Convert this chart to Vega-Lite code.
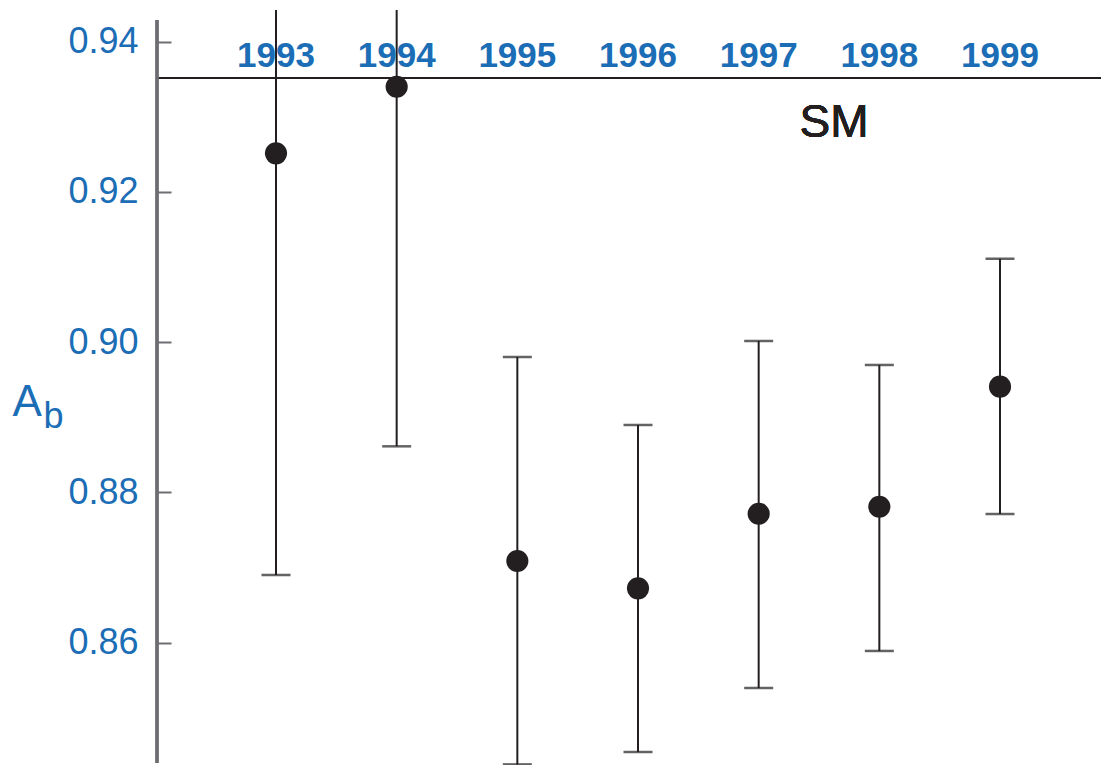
{
  "$schema": "https://vega.github.io/schema/vega-lite/v6.json",
  "width": 944,
  "height": 755,
  "autosize": {"type": "none"},
  "padding": {"left": 157, "top": 10, "right": 0, "bottom": 0},
  "background": "white",
  "config": {"view": {"stroke": null}, "axis": {"grid": false}},
  "data": {"values": [
    {"year": 1993, "v": 0.92514, "lo": 0.86901, "hi": 0.981},
    {"year": 1994, "v": 0.93401, "lo": 0.88614, "hi": 0.982},
    {"year": 1995, "v": 0.87088, "lo": 0.8438, "hi": 0.89803},
    {"year": 1996, "v": 0.86724, "lo": 0.84545, "hi": 0.88898},
    {"year": 1997, "v": 0.87717, "lo": 0.85397, "hi": 0.90016},
    {"year": 1998, "v": 0.8781, "lo": 0.8589, "hi": 0.89697},
    {"year": 1999, "v": 0.89408, "lo": 0.87713, "hi": 0.91111}
  ]},
  "layer": [
    {
      "mark": {"type": "rule", "color": "#231f20", "strokeWidth": 2},
      "encoding": {
        "x": {"field": "year", "type": "quantitative", "scale": {"domain": [1992.0138, 1999.837], "nice": false, "zero": false}, "axis": null},
        "y": {"field": "lo", "type": "quantitative",
          "scale": {"domain": [0.84372, 0.94422], "nice": false, "zero": false, "clamp": true},
          "axis": {"values": [0.86, 0.88, 0.90, 0.92, 0.94], "format": ".2f", "domain": false, "offset": -14,
            "ticks": true, "tickSize": 14, "tickColor": "#6d6e71", "tickWidth": 2,
            "labelFont": "Liberation Sans", "labelFontSize": 36, "labelColor": "#1b6db5", "labelPadding": 19,
            "title": "A", "titleFont": "Liberation Sans", "titleFontSize": 44, "titleFontWeight": "normal",
            "titleColor": "#1b6db5", "titleAngle": 0, "titleAlign": "left", "titleBaseline": "alphabetic",
            "titleX": -159, "titleY": 405}},
        "y2": {"field": "hi"}
      }
    },
    {
      "mark": {"type": "tick", "orient": "horizontal", "color": "#231f20", "thickness": 2.5, "size": 29},
      "encoding": {
        "x": {"field": "year", "type": "quantitative", "axis": null},
        "y": {"field": "lo", "type": "quantitative", "axis": null}
      }
    },
    {
      "transform": [{"filter": "datum.hi < 0.944"}],
      "mark": {"type": "tick", "orient": "horizontal", "color": "#231f20", "thickness": 2.5, "size": 29},
      "encoding": {
        "x": {"field": "year", "type": "quantitative", "axis": null},
        "y": {"field": "hi", "type": "quantitative", "axis": null}
      }
    },
    {
      "mark": {"type": "point", "shape": "circle", "filled": true, "opacity": 1, "color": "#231f20", "size": 490},
      "encoding": {
        "x": {"field": "year", "type": "quantitative", "axis": null},
        "y": {"field": "v", "type": "quantitative", "axis": null}
      }
    },
    {
      "mark": {"type": "rule", "color": "#231f20", "strokeWidth": 1.5},
      "encoding": {"y": {"datum": 0.93521, "type": "quantitative", "axis": null}}
    },
    {
      "mark": {"type": "rule", "color": "#6d6e71", "strokeWidth": 2.5},
      "encoding": {
        "x": {"datum": 1992.0138, "type": "quantitative", "axis": null},
        "y": {"datum": 0.84399, "type": "quantitative", "axis": null},
        "y2": {"datum": 0.94289}
      }
    },
    {
      "mark": {"type": "text", "font": "Liberation Sans", "fontSize": 46, "color": "#231f20", "align": "center", "baseline": "alphabetic"},
      "encoding": {
        "x": {"datum": 1997.624, "type": "quantitative", "axis": null},
        "y": {"datum": 0.92735, "type": "quantitative", "axis": null},
        "text": {"value": "SM"}
      }
    },
    {
      "mark": {"type": "text", "font": "Liberation Sans", "fontWeight": "bold", "fontSize": 35, "color": "#1b6db5", "align": "center", "baseline": "alphabetic"},
      "encoding": {
        "x": {"field": "year", "type": "quantitative", "axis": null},
        "y": {"datum": 0.93667, "type": "quantitative",
          "axis": {"orient": "left", "domain": false, "ticks": false, "labels": false, "grid": false,
            "title": "b", "titleFont": "Liberation Sans", "titleFontSize": 36, "titleFontWeight": "normal",
            "titleColor": "#1b6db5", "titleAngle": 0, "titleAlign": "left", "titleBaseline": "alphabetic",
            "titleX": -114, "titleY": 417}},
        "text": {"field": "year", "type": "nominal"}
      }
    }
  ],
  "resolve": {"axis": {"y": "independent"}}
}
